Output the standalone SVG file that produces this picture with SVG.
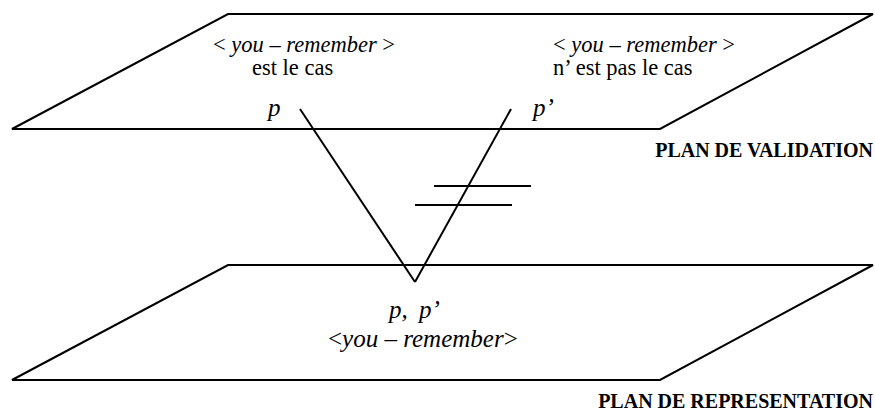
<svg xmlns="http://www.w3.org/2000/svg" width="875" height="412" viewBox="0 0 875 412">
<style>
.plane{fill:none;stroke:#000;stroke-width:2;stroke-linejoin:miter}
.ln{stroke:#000;stroke-width:2;fill:none}
.t{font-family:"Liberation Serif","Times New Roman",serif;font-size:22.5px;fill:#000}
.tb{font-family:"Liberation Serif","Times New Roman",serif;font-size:25px;fill:#000}
.i{font-style:italic}
.b{font-family:"Liberation Serif","Times New Roman",serif;font-size:20px;font-weight:bold;fill:#000}
</style>
<rect width="875" height="412" fill="#fff"/>
<g id="plan-validation">
<polygon class="plane" points="228,14 873,14 660,129 12,129"/>
<text class="b" x="873" y="157" text-anchor="end">PLAN DE VALIDATION</text>
</g>
<g id="p-cas">
<text class="t" x="213" y="52">&lt; <tspan class="i">you – remember</tspan> &gt;</text>
<text class="t" x="252" y="75">est le cas</text>
<text class="tb i" x="268" y="116">p</text>
</g>
<g id="pprime-cas">
<text class="t" x="553" y="52">&lt; <tspan class="i">you – remember</tspan> &gt;</text>
<text class="t" x="553" y="75">n’ est pas le cas</text>
<text class="tb i" x="533" y="116">p’</text>
</g>
<g id="plan-representation">
<polygon class="plane" points="228,265 873,265 660,380 12,380"/>
<text class="b" x="873" y="408" text-anchor="end">PLAN DE REPRESENTATION</text>
</g>
<g id="p-pprime">
<text class="tb i" x="389" y="318" word-spacing="5">p, p’</text>
<text class="tb" x="328" y="347">&lt;<tspan class="i">you – remember</tspan>&gt;</text>
</g>
<g id="connectors">
<line class="ln" x1="300" y1="109" x2="415" y2="282"/>
<line class="ln" x1="511" y1="109" x2="415" y2="282"/>
<line class="ln" x1="434" y1="186" x2="531" y2="186"/>
<line class="ln" x1="415" y1="205" x2="512" y2="205"/>
</g>
</svg>
